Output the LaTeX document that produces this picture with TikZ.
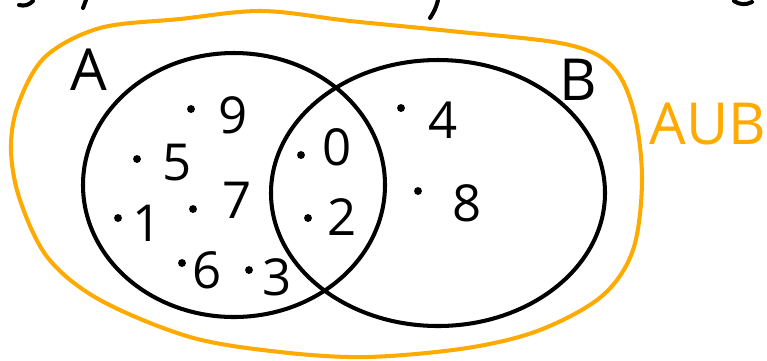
\documentclass[tikz,border=0pt]{standalone}
\usepackage{fontspec}
\setmainfont{Open Sans}
\usepackage{tikz}
\usetikzlibrary{positioning}
\definecolor{penorange}{RGB}{255,170,0}
\definecolor{penblack}{RGB}{0,0,0}

\begin{document}
\begin{tikzpicture}[x=0.02cm, y=-0.02cm, line cap=round, line join=round,
    pen/.style={line width=2.3pt},
    digit/.style={font=\fontsize{29}{29}\selectfont, inner sep=0pt},
    setname/.style={font=\fontsize{33}{33}\selectfont, inner sep=0pt},
    elem/.style={circle, fill=penblack, inner sep=0pt, minimum size=4.5pt}]
  \useasboundingbox (0,0) rectangle (767,360);
  \draw[pen, penblack] (234,185) ellipse [x radius=151, y radius=132];
  \draw[pen, penblack] (438,193) ellipse [x radius=167, y radius=133];
  \draw[pen, penorange] plot[smooth cycle, tension=0.55] coordinates {
    (262,11) (350,21) (450,31) (565,44) (612,66) (634,112) (642,180)
    (633,250) (602,296) (540,330) (467,348) (367,357)
    (280,352) (190,337) (100,300) (48,258) (20,200) (11,150) (18,105)
    (45,57) (100,28) (180,19)};
  \draw[pen, penblack] (19,5) to[bend right=30] (33,1);
  \draw[pen, penblack] (86,0) -- (83,8);
  \draw[pen, penblack] (438,0) to[bend left=10] (430,18);
  \draw[pen, penblack] (734,1) to[bend right=30] (752,2);
  \node[setname] (labA) at (89,70) {A};
  \node[setname] (labB) at (578,80) {B};
  \node[setname, penorange] (labAuB) at (708,124) {AUB};
  \foreach \n/\dx/\dy/\tx/\ty in {9/191/109/233/115, 5/137/159/177/163,
      1/118/218/147/223, 7/193/209/237/200, 6/182/263/207/270,
      3/249/270/277/277, 0/301/155/337/147, 2/308/218/342/217,
      4/401/108/443/120, 8/418/191/467/203} {
    \node[elem] (d\n) at (\dx,\dy) {};
    \node[digit] (n\n) at (\tx,\ty) {\n};
  }
\end{tikzpicture}
\end{document}
